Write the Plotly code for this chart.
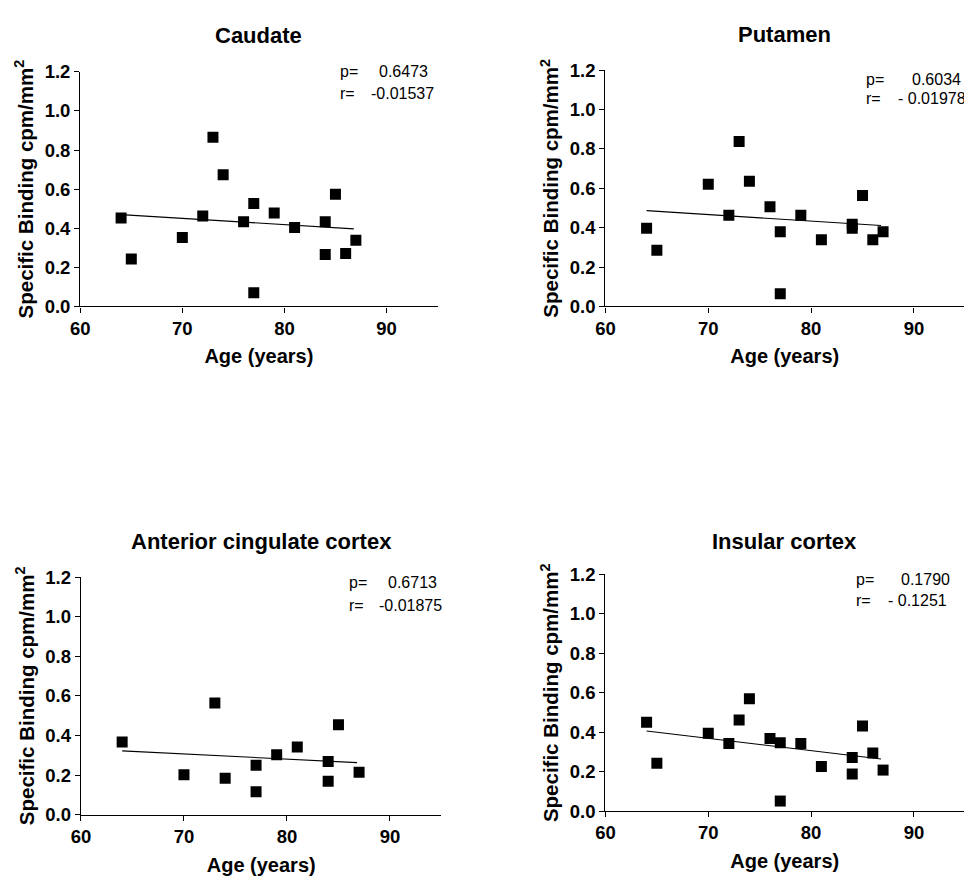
import numpy as np
import plotly.graph_objects as go

# ---------------- data ----------------
panel_titles = ["Caudate", "Putamen", "Anterior cingulate cortex", "Insular cortex"]

caudate_age = [64, 65, 70, 72, 73, 74, 76, 77, 77, 79, 81, 84, 84, 85, 86, 87]
caudate_val = [0.453, 0.243, 0.353, 0.463, 0.865, 0.674, 0.433, 0.527, 0.070, 0.478, 0.404, 0.433, 0.266, 0.574, 0.271, 0.338]

putamen_age = [64, 65, 70, 72, 73, 74, 76, 77, 77, 79, 81, 84, 84, 85, 86, 87]
putamen_val = [0.397, 0.286, 0.621, 0.464, 0.838, 0.636, 0.507, 0.380, 0.064, 0.463, 0.339, 0.418, 0.397, 0.564, 0.339, 0.379]

acc_age = [64, 70, 73, 74, 77, 77, 79, 81, 84, 84, 85, 87]
acc_val = [0.367, 0.202, 0.564, 0.184, 0.250, 0.115, 0.302, 0.342, 0.268, 0.169, 0.454, 0.214]

insular_age = [64, 65, 70, 72, 73, 74, 76, 77, 77, 79, 81, 84, 84, 85, 86, 87]
insular_val = [0.451, 0.243, 0.395, 0.343, 0.462, 0.570, 0.368, 0.347, 0.051, 0.343, 0.226, 0.272, 0.188, 0.432, 0.295, 0.208]

p_values = ["0.6473", "0.6034", "0.6713", "0.1790"]
r_values = ["-0.01537", "- 0.01978", "-0.01875", "- 0.1251"]

x_ticks = [60, 70, 80, 90]
y_ticks = [0.0, 0.2, 0.4, 0.6, 0.8, 1.0, 1.2]

ages = [caudate_age, putamen_age, acc_age, insular_age]
vals = [caudate_val, putamen_val, acc_val, insular_val]

# ---------------- layout geometry (pixels) ----------------
W, H = 964, 878
FONT = "Liberation Sans, Arial, sans-serif"

panels = [
    dict(x0=71.0, x1=432.0, top=62.3, bot=302.7, xmax=95.0,
         title_y=25, p_x=331, pv_x=371, rv_x=363, p_y=62, r_y=85),
    dict(x0=601.7, x1=964.0, top=60.7, bot=302.7, xmax=94.87,
         title_y=24, p_x=863, pv_x=909, rv_x=895, p_y=70, r_y=90),
    dict(x0=71.7, x1=436.0, top=580.0, bot=823.3, xmax=95.0,
         title_y=543, p_x=341, pv_x=380, rv_x=371, p_y=585, r_y=609),
    dict(x0=601.7, x1=964.0, top=577.3, bot=819.7, xmax=94.87,
         title_y=543, p_x=853, pv_x=898, rv_x=885, p_y=582, r_y=604),
]

def px(x):
    return x / W

def py(y):
    return 1 - y / H

fig = go.Figure()
annotations = []

for i, (pn, a, v) in enumerate(zip(panels, ages, vals)):
    k = "" if i == 0 else str(i + 1)
    xa, ya = "x" + k, "y" + k
    a_arr = np.array(a, dtype=float)
    v_arr = np.array(v, dtype=float)
    slope, intercept = np.polyfit(a_arr, v_arr, 1)
    fx = np.array([a_arr.min(), a_arr.max() - 0.2])
    fy = slope * fx + intercept

    fig.add_trace(go.Scatter(x=fx, y=fy, mode="lines",
                             line=dict(color="black", width=1.1),
                             xaxis=xa, yaxis=ya, showlegend=False, hoverinfo="skip"))
    fig.add_trace(go.Scatter(x=a, y=v, mode="markers",
                             marker=dict(symbol="square", size=11, color="black",
                                         line=dict(width=0)),
                             xaxis=xa, yaxis=ya, showlegend=False))

    axis_common = dict(showgrid=False, zeroline=False, showline=True,
                       linecolor="black", linewidth=1.4,
                       ticks="outside", ticklen=5, tickwidth=1.4, tickcolor="black",
                       tickfont=dict(family=FONT, size=18.5, color="black", weight="bold"))
    fig.update_layout(**{
        "xaxis" + k: dict(domain=[px(pn["x0"]), min(1.0, px(pn["x1"]))],
                          range=[60, pn["xmax"]], tickvals=x_ticks,
                          anchor=ya, fixedrange=True,
                          title=dict(text="Age (years)", standoff=11,
                                     font=dict(family=FONT, size=20, color="black", weight="bold")),
                          **axis_common),
        "yaxis" + k: dict(domain=[py(pn["bot"]), py(pn["top"])],
                          range=[0, 1.2], tickvals=y_ticks, tickformat=".1f",
                          anchor=xa, fixedrange=True,
                          title=dict(text="Specific Binding cpm/mm<sup>2</sup>", standoff=5,
                                     font=dict(family=FONT, size=20.5, color="black", weight="bold")),
                          **axis_common),
    })

    cx = (pn["x0"] + min(pn["x1"], 965.3)) / 2
    annotations.append(dict(text="<b>" + panel_titles[i] + "</b>", x=px(cx), y=py(pn["title_y"]),
                            xref="paper", yref="paper", xanchor="center", yanchor="middle",
                            showarrow=False, font=dict(family=FONT, size=22, color="black")))
    ann_font = dict(family=FONT, size=16, color="black")
    annotations.append(dict(text="p=", x=px(pn["p_x"]), y=py(pn["p_y"]), xref="paper", yref="paper",
                            xanchor="left", yanchor="middle", showarrow=False, font=ann_font))
    annotations.append(dict(text=p_values[i], x=px(pn["pv_x"]), y=py(pn["p_y"]), xref="paper", yref="paper",
                            xanchor="left", yanchor="middle", showarrow=False, font=ann_font))
    annotations.append(dict(text="r=", x=px(pn["p_x"]), y=py(pn["r_y"]), xref="paper", yref="paper",
                            xanchor="left", yanchor="middle", showarrow=False, font=ann_font))
    annotations.append(dict(text=r_values[i], x=px(pn["rv_x"]), y=py(pn["r_y"]), xref="paper", yref="paper",
                            xanchor="left", yanchor="middle", showarrow=False, font=ann_font))

fig.update_layout(width=W, height=H, margin=dict(l=0, r=0, t=0, b=0),
                  paper_bgcolor="white", plot_bgcolor="white",
                  annotations=annotations, showlegend=False,
                  font=dict(family=FONT, color="black"))

fig.write_html("out.html", config={"displayModeBar": False})
